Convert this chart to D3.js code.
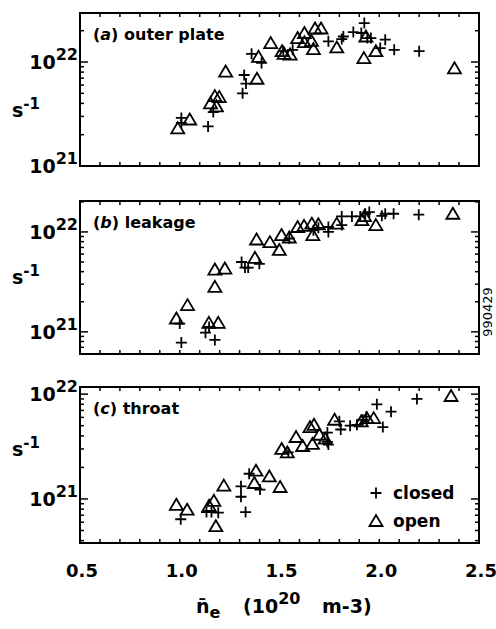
<!DOCTYPE html>
<html>
<head>
<meta charset="utf-8">
<script src="https://cdn.jsdelivr.net/npm/d3@7"></script>
<style>
  body { margin: 0; background: #fff; }
  svg text { font-family: "DejaVu Sans", sans-serif; fill: #000; }
</style>
</head>
<body>
<div id="chart"></div>
<script>
// ---- data: [n_e (1e20 m-3), rate (s-1)] ----
const panelTitles = ["outer plate", "leakage", "throat"];
const panelLetters = ["a", "b", "c"];
const xTickValues = [0.5, 1.0, 1.5, 2.0, 2.5];
const xTickLabels = ["0.5", "1.0", "1.5", "2.0", "2.5"];
const xDomain = [0.5, 2.5];
const yDomainOuter = [1e21, 2.96e22];
const yDomainLeak = [6.0e20, 2.04e22];
const yDomainThroat = [3.8e20, 1.17e22];

const outerClosed = [
  [1.008, 2.9e21], [1.008, 2.6e21], [1.142, 2.4e21], [1.168, 3.3e21],
  [1.323, 7.5e21], [1.315, 5.0e21], [1.332, 6.2e21], [1.36, 1.2e22],
  [1.41, 9.8e21], [1.519, 1.27e22], [1.566, 1.31e22], [1.745, 1.58e22],
  [1.812, 1.66e22], [1.82, 1.76e22], [1.87, 1.94e22], [1.91, 1.9e22],
  [1.925, 2.37e22], [1.94, 1.7e22], [1.958, 1.7e22], [2.005, 1.36e22],
  [2.03, 1.64e22], [2.075, 1.31e22], [2.2, 1.27e22]
];
const outerOpen = [
  [0.99, 2.3e21], [1.05, 2.8e21], [1.154, 4.0e21], [1.176, 4.7e21],
  [1.198, 4.6e21], [1.184, 3.75e21], [1.23, 8.1e21], [1.387, 6.9e21],
  [1.395, 1.12e22], [1.456, 1.52e22], [1.513, 1.27e22], [1.523, 1.2e22],
  [1.553, 1.18e22], [1.591, 1.7e22], [1.625, 1.9e22], [1.625, 1.55e22],
  [1.66, 1.6e22], [1.67, 1.33e22], [1.678, 2.1e22], [1.708, 2.1e22],
  [1.787, 1.38e22], [1.923, 1.09e22], [1.933, 1.76e22], [1.983, 1.27e22],
  [2.377, 8.7e21]
];
const leakClosed = [
  [1.0, 1.21e21], [1.008, 7.8e20], [1.129, 9.8e20], [1.147, 1.12e21],
  [1.176, 8.3e20], [1.31, 5.0e21], [1.327, 4.4e21], [1.343, 4.4e21],
  [1.399, 4.8e21], [1.549, 8.6e21], [1.67, 1.04e22], [1.695, 1.1e22],
  [1.745, 1.0e22], [1.745, 1.12e22], [1.812, 1.43e22], [1.812, 1.17e22],
  [1.863, 1.43e22], [1.905, 1.43e22], [1.93, 1.52e22], [1.95, 1.58e22],
  [2.013, 1.45e22], [2.03, 1.52e22], [2.072, 1.52e22], [2.198, 1.49e22]
];
const leakOpen = [
  [0.983, 1.36e21], [1.039, 1.85e21], [1.146, 1.23e21], [1.193, 1.23e21],
  [1.176, 2.82e21], [1.176, 4.2e21], [1.226, 4.3e21], [1.377, 5.5e21],
  [1.385, 8.4e21], [1.452, 7.9e21], [1.499, 6.6e21], [1.51, 9.3e21],
  [1.549, 8.8e21], [1.591, 1.12e22], [1.623, 1.15e22], [1.662, 1.21e22],
  [1.667, 9.3e21], [1.695, 1.19e22], [1.787, 1.21e22], [1.913, 1.31e22],
  [1.926, 1.44e22], [1.983, 1.17e22], [2.369, 1.52e22]
];
const throatClosed = [
  [1.005, 6.4e20], [1.134, 7.5e20], [1.159, 7.5e20], [1.193, 7.4e20],
  [1.307, 1.32e21], [1.307, 1.05e21], [1.33, 7.5e20], [1.348, 1.74e21],
  [1.402, 1.23e21], [1.544, 2.78e21], [1.74, 4.3e21], [1.74, 3.5e21],
  [1.745, 3.3e21], [1.8, 5.5e21], [1.807, 4.6e21], [1.854, 5.0e21],
  [1.888, 5.1e21], [1.918, 5.7e21], [1.935, 6.1e21], [1.988, 8.0e21],
  [2.018, 4.85e21], [2.059, 6.8e21], [2.189, 9.0e21]
];
const throatOpen = [
  [0.983, 8.8e20], [1.037, 7.9e20], [1.147, 8.6e20], [1.171, 9.6e20],
  [1.181, 5.5e20], [1.221, 1.34e21], [1.374, 1.42e21], [1.382, 1.86e21],
  [1.449, 1.64e21], [1.503, 1.3e21], [1.511, 3.0e21], [1.539, 2.78e21],
  [1.583, 3.9e21], [1.616, 3.2e21], [1.653, 4.85e21], [1.673, 5.1e21],
  [1.665, 3.35e21], [1.7, 4.1e21], [1.729, 3.76e21], [1.776, 5.7e21],
  [1.91, 5.5e21], [1.938, 5.9e21], [1.972, 5.9e21], [2.36, 9.6e21]
];
const legendLabels = ["closed", "open"];

// ---- layout ----
const W = 496, H = 629;
const left = 80, right = 479;
const panels = [
  {closed: outerClosed, open: outerOpen, domain: yDomainOuter, top: 13, bottom: 166, sLabelY: 117},
  {closed: leakClosed, open: leakOpen, domain: yDomainLeak, top: 201, bottom: 354, sLabelY: 284},
  {closed: throatClosed, open: throatOpen, domain: yDomainThroat, top: 387, bottom: 543, sLabelY: 456}
];

const svg = d3.select("#chart").append("svg")
  .attr("width", W).attr("height", H);

const x = d3.scaleLinear().domain(xDomain).range([left, right]);

const crossPath = "M-5.5,0H5.5M0,-5.5V5.5";
const triPath = "M0,-6L6.5,5H-6.5Z";

panels.forEach((p, i) => {
  const y = d3.scaleLog().domain(p.domain).range([p.bottom, p.top]);
  const g = svg.append("g");

  // minor x ticks top and bottom (every 0.1)
  const xt = d3.range(6, 25).map(v => v / 10);
  g.selectAll(".xtb").data(xt).enter().append("line")
    .attr("x1", d => x(d)).attr("x2", d => x(d))
    .attr("y1", p.bottom).attr("y2", p.bottom - 4)
    .attr("stroke", "#000").attr("stroke-width", 1.5);
  g.selectAll(".xtt").data(xt).enter().append("line")
    .attr("x1", d => x(d)).attr("x2", d => x(d))
    .attr("y1", p.top).attr("y2", p.top + 4)
    .attr("stroke", "#000").attr("stroke-width", 1.5);

  // log y ticks, left and right
  const yt = y.ticks().filter(d => d >= p.domain[0] && d <= p.domain[1]);
  const isMajor = d => Math.abs(Math.log10(d) - Math.round(Math.log10(d))) < 1e-6;
  g.selectAll(".ytl").data(yt).enter().append("line")
    .attr("x1", left).attr("x2", d => left + (isMajor(d) ? 8 : 4))
    .attr("y1", d => y(d)).attr("y2", d => y(d))
    .attr("stroke", "#000").attr("stroke-width", 1.5);
  g.selectAll(".ytr").data(yt).enter().append("line")
    .attr("x1", right).attr("x2", d => right - (isMajor(d) ? 8 : 4))
    .attr("y1", d => y(d)).attr("y2", d => y(d))
    .attr("stroke", "#000").attr("stroke-width", 1.5);

  // frame
  g.append("rect")
    .attr("x", left).attr("y", p.top)
    .attr("width", right - left).attr("height", p.bottom - p.top)
    .attr("fill", "none").attr("stroke", "#000").attr("stroke-width", 2);

  // decade labels
  yt.filter(isMajor).forEach(d => {
    const t = g.append("text")
      .attr("x", 78).attr("y", y(d) + 7)
      .attr("text-anchor", "end")
      .style("font-size", "19px").style("font-weight", "bold");
    t.append("tspan").text("10");
    t.append("tspan").attr("dy", -9).style("font-size", "16px")
      .text(Math.round(Math.log10(d)));
  });

  // s^-1
  const s = g.append("text").attr("x", 12).attr("y", p.sLabelY)
    .style("font-size", "19px").style("font-weight", "bold");
  s.append("tspan").text("s");
  s.append("tspan").attr("dy", -8).style("font-size", "15px").text("-1");

  // title
  const tt = g.append("text").attr("x", 93).attr("y", p.top + 27)
    .style("font-size", "16px").style("font-weight", "bold");
  tt.append("tspan").text("(");
  tt.append("tspan").style("font-style", "italic").text(panelLetters[i]);
  tt.append("tspan").text(") " + panelTitles[i]);

  // markers
  g.selectAll(".cl").data(p.closed).enter().append("path")
    .attr("d", crossPath)
    .attr("transform", d => `translate(${x(d[0])},${y(d[1])})`)
    .attr("fill", "none").attr("stroke", "#000").attr("stroke-width", 1.8);
  g.selectAll(".op").data(p.open).enter().append("path")
    .attr("d", triPath)
    .attr("transform", d => `translate(${x(d[0])},${y(d[1])})`)
    .attr("fill", "none").attr("stroke", "#000").attr("stroke-width", 1.8)
    .attr("stroke-linejoin", "miter");
});

// legend in panel (c)
const lg = svg.append("g");
[crossPath, triPath].forEach((sym, i) => {
  lg.append("path").attr("d", sym)
    .attr("transform", `translate(376,${493 + i * 28})`)
    .attr("fill", "none").attr("stroke", "#000").attr("stroke-width", 1.8);
  lg.append("text").attr("x", 393).attr("y", 499 + i * 28)
    .style("font-size", "17px").style("font-weight", "bold")
    .text(legendLabels[i]);
});

// x tick labels
svg.selectAll(".xl").data(xTickValues).enter().append("text")
  .attr("x", d => x(d) + 2).attr("y", 577)
  .attr("text-anchor", "middle")
  .style("font-size", "18px").style("font-weight", "bold")
  .text((d, i) => xTickLabels[i]);

// x axis label
const xl = svg.append("text").attr("x", 196).attr("y", 613)
  .style("font-size", "19px").style("font-weight", "bold");
xl.append("tspan").text("n\u0304");
xl.append("tspan").attr("dy", 5).style("font-size", "16px").text("e");
xl.append("tspan").attr("x", 243).attr("dy", -5).text("(10");
xl.append("tspan").attr("dy", -9).style("font-size", "16px").text("20");
xl.append("tspan").attr("x", 322).attr("dy", 9).text("m-3)");

// figure id on the right
svg.append("text")
  .attr("transform", "translate(492,312) rotate(-90)")
  .attr("text-anchor", "middle")
  .style("font-size", "13px")
  .text("990429");
</script>
</body>
</html>
